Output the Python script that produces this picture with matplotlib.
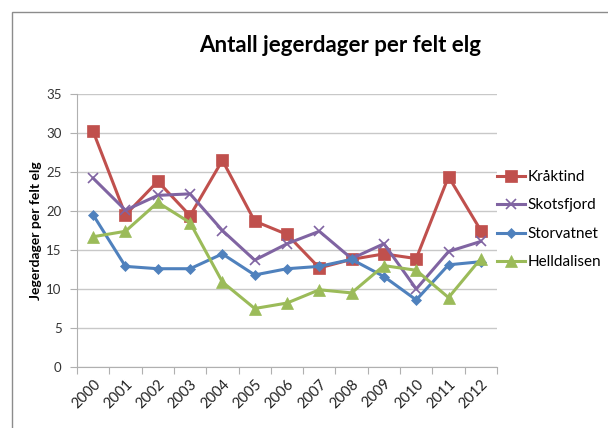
import matplotlib.pyplot as plt
from matplotlib.patches import Rectangle
import numpy as np

plt.rcParams['font.family'] = ['Lato', 'DejaVu Sans']

years = ['2000', '2001', '2002', '2003', '2004', '2005', '2006',
         '2007', '2008', '2009', '2010', '2011', '2012']
kraktind = [30.2, 19.5, 23.8, 19.4, 26.5, 18.7, 17.0, 12.7, 13.8, 14.5, 13.9, 24.4, 17.5]
skotsfjord = [24.2, 20.1, 22.0, 22.2, 17.5, 13.7, 15.8, 17.4, 13.9, 15.8, 10.0, 14.8, 16.1]
storvatnet = [19.5, 12.9, 12.6, 12.6, 14.5, 11.8, 12.6, 12.9, 13.8, 11.6, 8.6, 13.1, 13.5]
helldalisen = [16.7, 17.4, 21.1, 18.5, 10.9, 7.5, 8.2, 9.9, 9.5, 13.0, 12.4, 8.9, 13.9]

series = [
    ('Kråktind', kraktind, '#C0504D', 's', 8, 1.0),
    ('Skotsfjord', skotsfjord, '#8064A2', 'x', 7, 1.2),
    ('Storvatnet', storvatnet, '#4F81BD', 'D', 5.5, 1.0),
    ('Helldalisen', helldalisen, '#9BBB59', '^', 8, 1.0),
]

fig = plt.figure(figsize=(6.08, 4.28), dpi=100)
# chart border (only left and top edges show in the picture)
fig.patches.append(Rectangle((12 / 608, -0.1), 1.2, 1 - 12 / 428 + 0.1,
                             transform=fig.transFigure, fill=False,
                             edgecolor='#8c8c8c', linewidth=1.0))

ax = fig.add_axes([77 / 608, 1 - 367 / 428, 420 / 608, 273 / 428])
x = np.arange(len(years))
for name, vals, color, marker, ms, mew in series:
    ax.plot(x, vals, color=color, linewidth=2.2, marker=marker, markersize=ms,
            markeredgewidth=mew if marker == 'x' else 0.5,
            markeredgecolor=color, markerfacecolor=color, label=name)

ax.set_xlim(-0.5, len(years) - 0.5)
ax.set_ylim(0, 35)
ax.set_yticks(range(0, 36, 5))
ax.yaxis.grid(True, color='#c8c8c8', linewidth=1.0)
ax.set_axisbelow(True)

ax.set_xticks(np.arange(-0.5, len(years), 1.0))
ax.set_xticklabels([])
ax.set_xticks(x, minor=True)
ax.set_xticklabels(years, minor=True, rotation=45, ha='right', va='top',
                   rotation_mode='anchor', fontsize=10.5, color='#222222')
ax.tick_params(axis='x', which='minor', length=0, pad=7)
ax.tick_params(axis='x', which='major', length=5, color='#b0b0b0')
ax.tick_params(axis='y', length=5, color='#b0b0b0', labelsize=9.5,
               labelcolor='#333333', pad=6)

for side in ['top', 'right']:
    ax.spines[side].set_visible(False)
for side in ['left', 'bottom']:
    ax.spines[side].set_color('#b0b0b0')

ax.set_ylabel('Jegerdager per felt elg', fontsize=10, fontweight='bold', labelpad=3)
fig.text(340 / 608, 1 - 45 / 428, 'Antall jegerdager per felt elg',
         fontsize=16, fontweight='bold', ha='center', va='center')

ax.legend(loc='upper left', bbox_to_anchor=(1.0, 0.722), frameon=False,
          fontsize=11, handlelength=1.8, handletextpad=0.2, labelspacing=0.95,
          borderaxespad=0.0, borderpad=0.0)

fig.savefig('out.png', dpi=100)
